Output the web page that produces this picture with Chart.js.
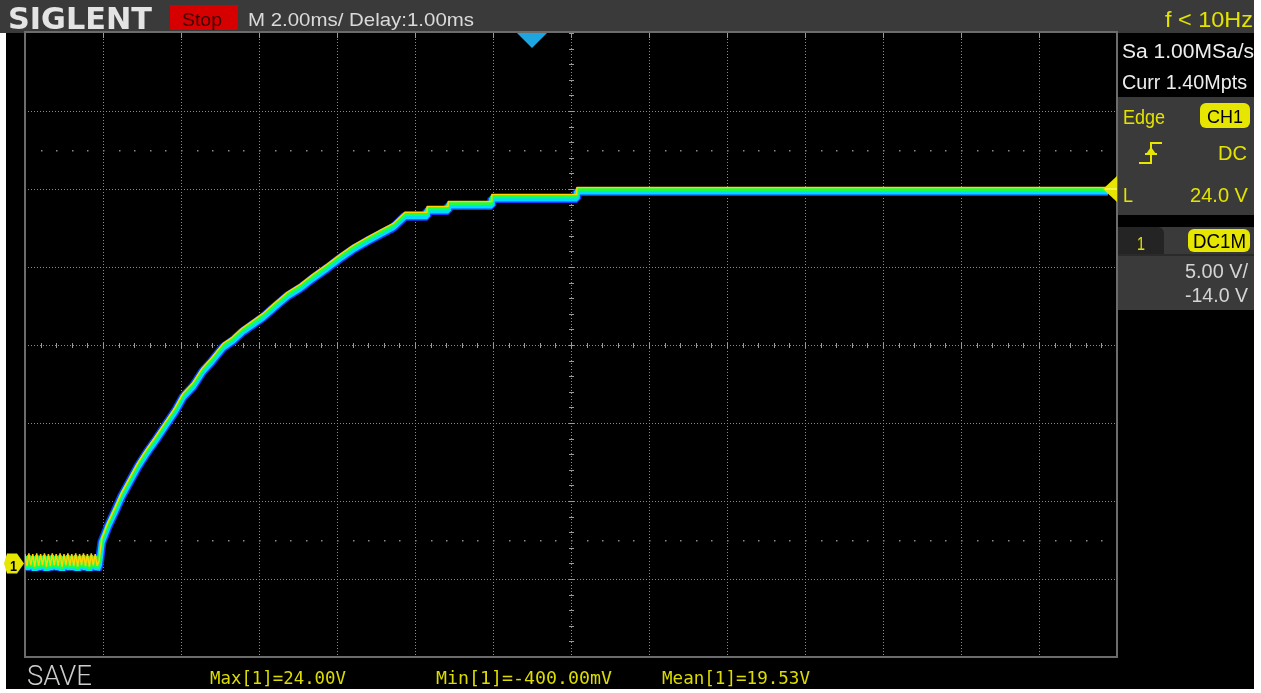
<!DOCTYPE html>
<html>
<head>
<meta charset="utf-8">
<script src="https://cdn.jsdelivr.net/npm/chart.js@4.4.1/dist/chart.umd.min.js"></script>
<style>
  html, body { margin: 0; padding: 0; background: #fff; width: 1261px; height: 693px; overflow: hidden; }
  #screen { position: absolute; left: 0; top: 0; width: 1254px; height: 689px; background: #000; }
  #bar { position: absolute; left: 0; top: 0; width: 1254px; height: 33px; background: #3a3a3a; }
  #leftEdge { position: absolute; left: 0; top: 33px; width: 6px; height: 660px; background: #fff; }
  #stopBox { position: absolute; left: 170px; top: 5px; width: 68px; height: 25px; background: #d60000; }
  #trigPanel { position: absolute; left: 1118px; top: 97px; width: 136px; height: 118px; background: #3a3a3a; }
  #chPanel { position: absolute; left: 1118px; top: 227px; width: 136px; height: 83px; background: #3a3a3a; }
  #chTab { position: absolute; left: 1118px; top: 227px; width: 46px; height: 27px; background: #242424; border-top-right-radius: 6px; }
  #chSep { position: absolute; left: 1118px; top: 254px; width: 136px; height: 2px; background: #2a2a2a; }
  .pill { position: absolute; background: #e6e600; border-radius: 6px; }
  #plot { position: absolute; left: 0; top: 0; }
  .t { position: absolute; white-space: nowrap; line-height: 1; transform-origin: 0 0; }
  #edgeIcon { position: absolute; left: 1138px; top: 139px; }
</style>
</head>
<body>
<div id="screen"></div>
<div id="bar"></div>
<div id="leftEdge"></div>
<div id="stopBox"></div>
<div id="trigPanel"></div>
<div id="chPanel"></div>
<div id="chTab"></div>
<div id="chSep"></div>
<div class="pill" style="left:1200px;top:103px;width:50px;height:25px"></div>
<div class="pill" style="left:1188px;top:229px;width:62px;height:23px"></div>
<canvas id="plot" width="1261" height="693"></canvas>
<svg id="edgeIcon" width="26" height="28" viewBox="0 0 26 28">
  <polyline points="1,24 13,24 13,4 24,4" fill="none" stroke="#e6e600" stroke-width="2"/>
  <polygon points="13,8 8,15 18,15" fill="#e6e600"/>
  <line x1="7" y1="15" x2="19" y2="15" stroke="#e6e600" stroke-width="2"/>
</svg>
<div id="labels"></div>

<script>
// Scope settings: 2 ms/div over 14 divisions, 5 V/div over 8 divisions
const timePerDiv = 2;        // ms
const voltsPerDiv = 5;       // V
const timeMin = -13, timeMax = 15;   // ms, trigger at 0
const voltMin = -6, voltMax = 34;    // V, offset -14 V
const triggerTime = 0;
const triggerLevel = 24.0;
const groundLevel = 0;

// CH1 capture: noisy baseline around 0 V, then the charging curve up to ~24 V
const timeMs = [
  -13.00, -12.95, -12.90, -12.85, -12.80, -12.75, -12.70, -12.65, -12.60, -12.55,
  -12.50, -12.45, -12.40, -12.35, -12.30, -12.25, -12.20, -12.15, -12.10, -12.05,
  -12.00, -11.95, -11.90, -11.85, -11.80, -11.75, -11.70, -11.65, -11.60, -11.55,
  -11.50, -11.45, -11.40, -11.35, -11.30, -11.25, -11.20, -11.15,
  -11.10, -11.03, -10.87, -10.69, -10.52, -10.31, -10.10, -9.87, -9.67, -9.41,
  -9.15, -8.95, -8.69, -8.46, -8.21, -7.92, -7.69, -7.44, -6.90, -6.64,
  -6.28, -5.95, -5.62, -5.26, -4.92, -4.59, -4.23, -3.90, -3.56, -3.26,
  -2.69, -2.69, -2.15, -2.15, -1.03, -1.03, 1.15, 1.15, 14.77
];
const volts = [
  0.40, -0.35, 0.45, -0.30, 0.40, -0.40, 0.45, -0.35, 0.40, -0.30,
  0.45, -0.40, 0.40, -0.35, 0.45, -0.30, 0.40, -0.35, 0.45, -0.40,
  0.40, -0.30, 0.45, -0.35, 0.40, -0.35, 0.45, -0.40, 0.40, -0.30,
  0.45, -0.35, 0.40, -0.40, 0.45, -0.30, 0.40, -0.35,
  0.00, 1.41, 2.44, 3.40, 4.36, 5.32, 6.28, 7.18, 7.88, 8.85,
  9.81, 10.71, 11.41, 12.31, 13.01, 13.91, 14.30, 14.87, 15.83, 16.41,
  17.18, 17.69, 18.33, 18.97, 19.62, 20.19, 20.71, 21.15, 21.60, 22.31,
  22.31, 22.69, 22.69, 23.01, 23.01, 23.46, 23.46, 23.91, 23.91
];

// Persistence colouring of the trace, painted as stacked strokes
const traceLayers = [
  { color: '#ffd400', width: 1.5, shift: -3 },
  { color: '#1cff48', width: 3.5, shift: -1 },
  { color: '#00dcff', width: 6,   shift: 1 },
  { color: '#0a3cff', width: 9,   shift: 1 }
];

const points = timeMs.map((t, i) => ({ x: t, y: volts[i] }));

const layerShift = {
  id: 'layerShift',
  beforeDatasetDraw(chart, args) {
    const ds = chart.data.datasets[args.index];
    chart.ctx.save();
    chart.ctx.translate(0, ds.shiftY || 0);
  },
  afterDatasetDraw(chart) {
    chart.ctx.restore();
  }
};

const graticule = {
  id: 'graticule',
  beforeDatasetsDraw(chart) {
    const { ctx, chartArea: a, scales: { x, y } } = chart;
    const px = v => Math.round(x.getPixelForValue(v)) + 0.5;
    const py = v => Math.round(y.getPixelForValue(v)) + 0.5;
    ctx.save();
    ctx.strokeStyle = '#8a8a8a';
    ctx.lineWidth = 1;
    ctx.setLineDash([1, 2]);
    for (let t = timeMin + timePerDiv; t < timeMax - 0.01; t += timePerDiv) {
      ctx.beginPath(); ctx.moveTo(px(t), a.top); ctx.lineTo(px(t), a.bottom); ctx.stroke();
    }
    for (let v = voltMin + voltsPerDiv; v < voltMax - 0.01; v += voltsPerDiv) {
      ctx.beginPath(); ctx.moveTo(a.left, py(v)); ctx.lineTo(a.right, py(v)); ctx.stroke();
    }
    ctx.setLineDash([]);

    // centre cross ticks at 1/5 division
    const tc = (timeMin + timeMax) / 2, vc = (voltMin + voltMax) / 2;
    ctx.strokeStyle = '#9a9a9a';
    for (let t = timeMin; t <= timeMax + 0.01; t += timePerDiv / 5) {
      ctx.beginPath(); ctx.moveTo(px(t), py(vc) - 2.5); ctx.lineTo(px(t), py(vc) + 2.5); ctx.stroke();
    }
    for (let v = voltMin; v <= voltMax + 0.01; v += voltsPerDiv / 5) {
      ctx.beginPath(); ctx.moveTo(px(tc) - 2.5, py(v)); ctx.lineTo(px(tc) + 2.5, py(v)); ctx.stroke();
    }

    // sparse marker rows 2.5 divisions above and below centre
    ctx.fillStyle = '#8a8a8a';
    [vc - 2.5 * voltsPerDiv, vc + 2.5 * voltsPerDiv].forEach(v => {
      for (let t = timeMin + timePerDiv / 5; t < timeMax; t += timePerDiv / 5) {
        ctx.fillRect(Math.round(x.getPixelForValue(t)), Math.round(y.getPixelForValue(v)), 1.5, 1.5);
      }
    });

    // edge ticks at each division
    ctx.strokeStyle = '#9a9a9a';
    for (let t = timeMin + timePerDiv; t < timeMax; t += timePerDiv) {
      ctx.beginPath(); ctx.moveTo(px(t), a.top); ctx.lineTo(px(t), a.top + 5); ctx.stroke();
    }

    // frame
    ctx.strokeStyle = '#6c6c6c';
    ctx.lineWidth = 2;
    ctx.strokeRect(a.left, a.top - 1, a.right - a.left, a.bottom - a.top + 1);
    ctx.restore();
  }
};

const markers = {
  id: 'markers',
  afterDatasetsDraw(chart) {
    const { ctx, chartArea: a, scales: { x, y } } = chart;
    ctx.save();
    // trigger position
    const tx = x.getPixelForValue(triggerTime);
    ctx.fillStyle = '#1ea6e0';
    ctx.beginPath();
    ctx.moveTo(tx - 15, a.top); ctx.lineTo(tx + 15, a.top); ctx.lineTo(tx, a.top + 15);
    ctx.closePath(); ctx.fill();
    // trigger level
    const ty = y.getPixelForValue(triggerLevel);
    ctx.fillStyle = '#e6e600';
    ctx.beginPath();
    ctx.moveTo(a.right - 14, ty); ctx.lineTo(a.right, ty - 13); ctx.lineTo(a.right, ty + 13);
    ctx.closePath(); ctx.fill();
    ctx.fillStyle = '#ffffa0';
    ctx.fillRect(a.right - 12, ty - 0.5, 12, 1);
    // channel ground
    const gy = y.getPixelForValue(groundLevel);
    ctx.fillStyle = '#e6e600';
    ctx.beginPath();
    ctx.moveTo(4, gy); ctx.lineTo(7, gy - 10); ctx.lineTo(17, gy - 10); ctx.lineTo(24, gy);
    ctx.lineTo(17, gy + 10); ctx.lineTo(7, gy + 10);
    ctx.closePath(); ctx.fill();
    ctx.restore();
  }
};

new Chart(document.getElementById('plot'), {
  type: 'line',
  data: {
    datasets: traceLayers.map(l => ({
      data: points,
      borderColor: l.color,
      borderWidth: l.width,
      pointRadius: 0,
      tension: 0,
      fill: false,
      borderCapStyle: 'butt',
      borderJoinStyle: 'bevel',
      shiftY: l.shift
    }))
  },
  options: {
    responsive: false,
    animation: false,
    devicePixelRatio: 1,
    layout: { padding: { left: 25, right: 144, top: 33, bottom: 36 } },
    scales: {
      x: { type: 'linear', min: timeMin, max: timeMax, display: false },
      y: { type: 'linear', min: voltMin, max: voltMax, display: false }
    },
    plugins: { legend: { display: false }, tooltip: { enabled: false } }
  },
  plugins: [graticule, layerShift, markers]
});

// On-screen readouts: [text, left, baseline, size, colour, family, weight, width]
const UI = '"Liberation Sans", Arial, sans-serif';
const MONO = '"DejaVu Sans Mono", monospace';
const labels = [
  ['SIGLENT', 8, 29, 31, '#e4e4e4', '"DejaVu Sans", sans-serif', 700, 144],
  ['Stop', 182, 26, 19, '#3c0000', UI, 400, 40],
  ['M 2.00ms/ Delay:1.00ms', 248, 26, 19, '#dadada', UI, 400, 226],
  ['f < 10Hz', 1165, 28, 22, '#e3e300', UI, 400, 88],
  ['Sa 1.00MSa/s', 1122, 58, 20, '#eeeeee', UI, 400, 132],
  ['Curr 1.40Mpts', 1122, 89, 20, '#eeeeee', UI, 400, 125],
  ['Edge', 1123, 124, 20, '#e3e300', UI, 400, 42],
  ['CH1', 1207, 123, 19, '#000000', UI, 400, 36],
  ['DC', 1218, 160, 20, '#e3e300', UI, 400, 29],
  ['L', 1123, 202, 20, '#e3e300', UI, 400, 10],
  ['24.0 V', 1190, 202, 20, '#e3e300', UI, 400, 58],
  ['1', 1137, 250, 19, '#e3e300', UI, 400, 8],
  ['DC1M', 1193, 248, 20, '#000000', UI, 400, 53],
  ['5.00 V/', 1185, 278, 20, '#d4d4d4', UI, 400, 63],
  ['-14.0 V', 1185, 302, 20, '#d4d4d4', UI, 400, 63],
  ['1', 10, 571, 15, '#000000', UI, 700, 7],
  ['SAVE', 27, 686, 28, '#cccccc', 'Roboto, sans-serif', 300, 65],
  ['Max[1]=24.00V', 210, 684, 17, '#dcdc00', MONO, 400, 136],
  ['Min[1]=-400.00mV', 436, 684, 17, '#dcdc00', MONO, 400, 176],
  ['Mean[1]=19.53V', 662, 684, 17, '#dcdc00', MONO, 400, 148]
];
const holder = document.getElementById('labels');
labels.forEach(([text, left, base, size, color, family, weight, w]) => {
  const el = document.createElement('div');
  el.className = 't';
  el.textContent = text;
  el.style.left = left + 'px';
  el.style.top = (base - 0.845 * size) + 'px';
  el.style.fontSize = size + 'px';
  el.style.color = color;
  el.style.fontFamily = family;
  el.style.fontWeight = weight;
  holder.appendChild(el);
  const natural = el.getBoundingClientRect().width;
  if (natural > 0) el.style.transform = 'scaleX(' + (w / natural) + ')';
});
</script>
</body>
</html>
